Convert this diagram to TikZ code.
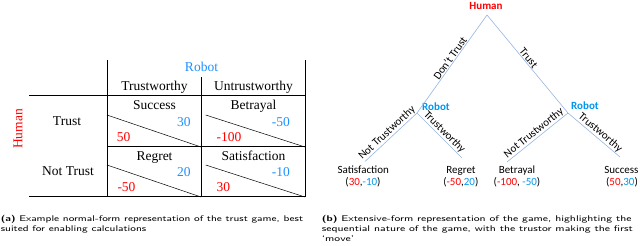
\documentclass[tikz,border=0pt]{standalone}
\usepackage{fontspec}
\usepackage{graphicx}
\newfontfamily\tnrfont{Liberation Serif}
\newfontfamily\clbfont{Carlito}
\definecolor{tblue}{RGB}{30,144,255}
\definecolor{treeblue}{RGB}{0,150,240}
\definecolor{edgeblue}{RGB}{150,180,225}
\newcommand{\capline}[1]{\scalebox{1.28}[1]{#1}}
\newcommand{\caplineb}[1]{\scalebox{1.325}[1]{#1}}
\begin{document}
\begin{tikzpicture}[x=1pt,y=-1pt,
  tbl/.style={line width=0.8pt,black},
  ttext/.style={inner sep=0pt,font=\tnrfont\fontsize{13.5}{15}\selectfont},
  edge/.style={edgeblue,line width=0.6pt},
  etext/.style={inner sep=0.8pt,text=black,font=\clbfont\fontsize{11}{12}\selectfont,sloped,above},
  leaf/.style={inner sep=0pt,anchor=base,font=\clbfont\fontsize{11}{12}\selectfont},
  player/.style={inner sep=0pt,font=\clbfont\bfseries\fontsize{11}{12}\selectfont},
  captext/.style={inner sep=0pt,anchor=base west,font=\sffamily\fontsize{8.3}{10}\selectfont}]
\useasboundingbox (0,0) rectangle (640,246);
% ---------- table ----------
\coordinate (c1t) at (107,60);
\coordinate (c1b) at (107,197);
\coordinate (c2t) at (201.7,77);
\coordinate (c2b) at (201.7,197);
\coordinate (c3t) at (305,60);
\coordinate (c3b) at (305,197);
\coordinate (h1l) at (29,95.7);
\coordinate (h1r) at (305,95.7);
\coordinate (h2l) at (107,146.7);
\coordinate (h2r) at (305,146.7);
\coordinate (h3l) at (29,196.7);
\coordinate (h3r) at (305,196.7);
\draw[tbl] (c1t) -- (c1b);
\draw[tbl] (c2t) -- (c2b);
\draw[tbl] (c3t) -- (c3b);
\draw[tbl] (h1l) -- (h1r);
\draw[tbl] (h2l) -- (h2r);
\draw[tbl] (h3l) -- (h3r);
\coordinate (d1a) at (107,115); \coordinate (d1b) at (201,147);
\coordinate (d2a) at (205.7,115); \coordinate (d2b) at (305,147);
\coordinate (d3a) at (107,165); \coordinate (d3b) at (201,197);
\coordinate (d4a) at (205.7,165); \coordinate (d4b) at (305,197);
\draw[line width=0.5pt] (d1a) -- (d1b);
\draw[line width=0.5pt] (d2a) -- (d2b);
\draw[line width=0.5pt] (d3a) -- (d3b);
\draw[line width=0.5pt] (d4a) -- (d4b);
\node[ttext,anchor=base,text=tblue] (trobot) at (201.5,71) {Robot};
\node[ttext,anchor=base] (tw) at (154.5,90.7) {Trustworthy};
\node[ttext,anchor=base] (utw) at (253.5,90.7) {Untrustworthy};
\node[ttext,rotate=90,text=red] (thuman) at (18,129) {Human};
\node[ttext,anchor=base] (ttrust) at (67,125) {Trust};
\node[ttext,anchor=base] (tnot) at (68,175.7) {Not Trust};
\node[ttext,anchor=base] (tsucc) at (154.5,109.5) {Success};
\node[ttext,anchor=base] (tbet) at (253.5,109.5) {Betrayal};
\node[ttext,anchor=base] (treg) at (154.5,160) {Regret};
\node[ttext,anchor=base] (tsat) at (253.5,160) {Satisfaction};
\node[ttext,anchor=base east,text=tblue] (v1r) at (190.7,126) {30};
\node[ttext,anchor=base east,text=tblue] (v2r) at (290,126) {-50};
\node[ttext,anchor=base east,text=tblue] (v3r) at (190.7,176.7) {20};
\node[ttext,anchor=base east,text=tblue] (v4r) at (290,176.7) {-10};
\node[ttext,anchor=base west,text=red] (v1h) at (116.7,141.7) {50};
\node[ttext,anchor=base west,text=red] (v2h) at (216.5,141.7) {-100};
\node[ttext,anchor=base west,text=red] (v3h) at (117.3,191.7) {-50};
\node[ttext,anchor=base west,text=red] (v4h) at (216.5,191.7) {30};
% ---------- tree ----------
\node[player,text=red] (human) at (486,6) {Human};
\coordinate (apex) at (487,15);
\coordinate (rl) at (417,113);
\coordinate (rr) at (568,113);
\coordinate (l1) at (365,161.5);
\coordinate (l2) at (462,158);
\coordinate (l3) at (507,162);
\coordinate (l4) at (620,157);
\node[player,text=treeblue] (robotl) at (436,106.5) {Robot};
\node[player,text=treeblue] (robotr) at (585,105.5) {Robot};
\draw[edge] (rl) -- node[etext,pos=0.53] {Don’t Trust} (apex);
\draw[edge] (apex) -- node[etext,pos=0.47] {Trust} (rr);
\draw[edge] (l1) -- node[etext,pos=0.5] {Not Trustworthy} (rl);
\draw[edge] (rl) -- node[etext,pos=0.52] {Trustworthy} (l2);
\draw[edge] (l3) -- node[etext,pos=0.5] {Not Trustworthy} (rr);
\draw[edge] (rr) -- node[etext,pos=0.55] {Trustworthy} (l4);
\node[leaf] (sat) at (363.3,173.5) {Satisfaction};
\node[leaf] (satv) at (363,185) {(\textcolor{red}{30},\textcolor{treeblue}{-10})};
\node[leaf] (reg) at (461,173.5) {Regret};
\node[leaf] (regv) at (460.8,185) {(\textcolor{red}{-50},\textcolor{treeblue}{20})};
\node[leaf] (bet) at (517,173.5) {Betrayal};
\node[leaf] (betv) at (517,185) {(\textcolor{red}{-100}, \textcolor{treeblue}{-50})};
\node[leaf] (suc) at (621.4,173.5) {Success};
\node[leaf] (sucv) at (622,185) {(\textcolor{red}{50},\textcolor{treeblue}{30})};
% ---------- captions ----------
\node[captext] (capa1) at (0.7,221.7) {\capline{\textbf{(a)} Example normal-form representation of the trust game, best}};
\node[captext] (capa2) at (0.7,231.7) {\capline{suited for enabling calculations}};
\node[captext] (capb1) at (321.7,221.7) {\caplineb{\textbf{(b)} Extensive-form representation of the game, highlighting the}};
\node[captext] (capb2) at (321.7,231.5) {\caplineb{sequential nature of the game, with the trustor making the first}};
\node[captext] (capb3) at (321.7,241.3) {\caplineb{‘move’}};
\end{tikzpicture}
\end{document}
